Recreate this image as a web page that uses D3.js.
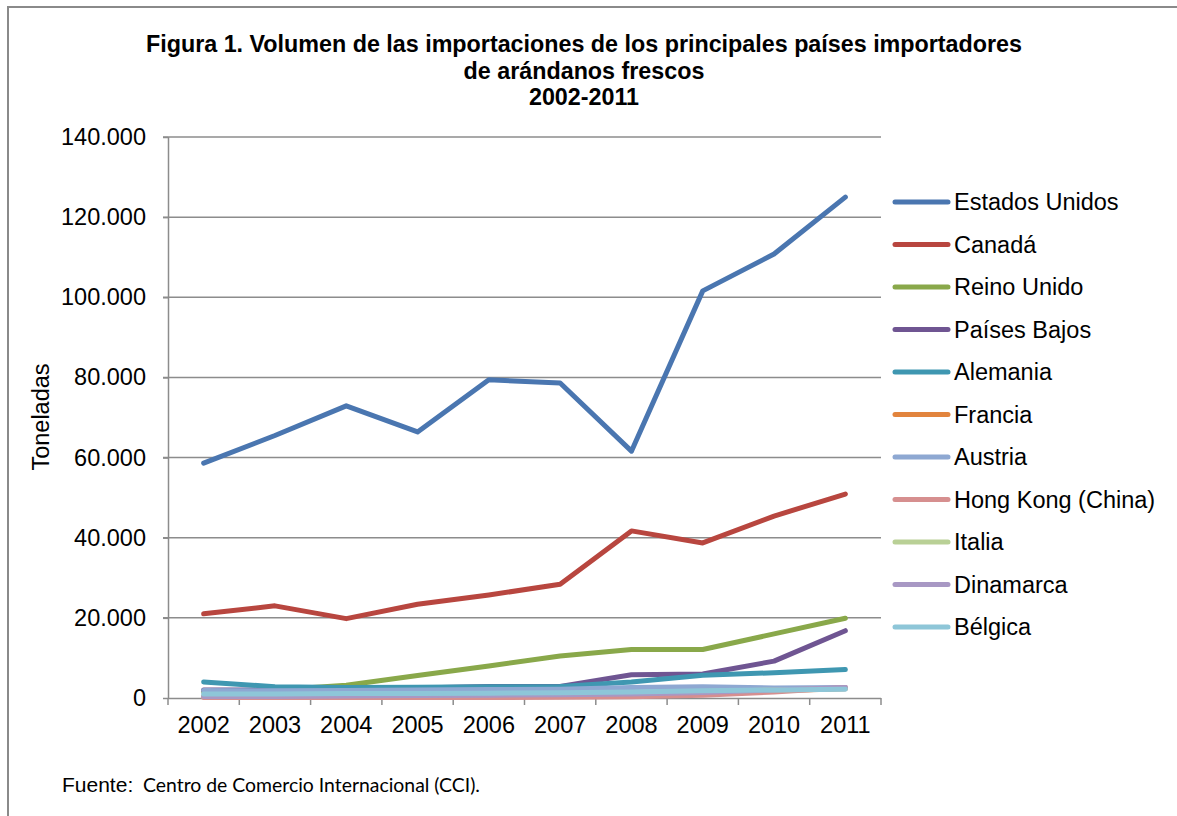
<!DOCTYPE html>
<html>
<head>
<meta charset="utf-8">
<script src="https://cdn.jsdelivr.net/npm/d3@7"></script>
<style>
  body { margin: 0; background: #fff; }
  text { font-family: "Liberation Sans", Arial, sans-serif; fill: #000; }
</style>
</head>
<body>
<svg width="1177" height="816"></svg>
<script>
  var years = ["2002", "2003", "2004", "2005", "2006", "2007", "2008", "2009", "2010", "2011"];
  var yTicks = [0, 20000, 40000, 60000, 80000, 100000, 120000, 140000];

  var estadosUnidos = [58600, 65500, 72900, 66400, 79400, 78600, 61600, 101600, 110800, 125000];
  var canada = [21000, 23000, 19800, 23400, 25700, 28400, 41700, 38700, 45400, 50900];
  var reinoUnido = [1500, 2000, 3200, 5600, 8000, 10500, 12100, 12100, 16000, 19900];
  var paisesBajos = [2000, 2000, 2200, 2500, 2900, 2900, 5800, 6000, 9200, 16800];
  var alemania = [4000, 2800, 2600, 2700, 2800, 2900, 4000, 5700, 6300, 7100];
  var francia = [300, 300, 400, 500, 600, 700, 900, 1300, 1800, 2300];
  var austria = [1900, 1800, 1900, 2000, 2100, 2200, 2600, 2800, 2500, 2600];
  var hongKong = [100, 100, 100, 100, 100, 200, 300, 700, 1500, 2600];
  var italia = [500, 600, 700, 800, 900, 1000, 1200, 1600, 2000, 2400];
  var dinamarca = [400, 400, 500, 600, 700, 800, 1000, 1400, 2000, 2600];
  var belgica = [1000, 1000, 1100, 1100, 1200, 1300, 1500, 1800, 2000, 2200];

  var names = ["Estados Unidos", "Canadá", "Reino Unido", "Países Bajos", "Alemania", "Francia",
    "Austria", "Hong Kong (China)", "Italia", "Dinamarca", "Bélgica"];
  var colors = ["#4a76b0", "#b8463f", "#89a84a", "#6f5592", "#3f97b1", "#e2843d",
    "#8ea8d2", "#d68f8f", "#b9d096", "#a898c4", "#8ec6d8"];
  var values = [estadosUnidos, canada, reinoUnido, paisesBajos, alemania, francia,
    austria, hongKong, italia, dinamarca, belgica];

(function (d3) {
  'use strict';

  var series = names.map(function (n, i) { return { name: n, color: colors[i], values: values[i] }; });

  var svg = d3.select("svg");

  // marco
  svg.append("rect")
    .attr("x", 8).attr("y", 7)
    .attr("width", 1300).attr("height", 900)
    .attr("fill", "none")
    .attr("stroke", "#8a8a8a")
    .attr("stroke-width", 2);

  var plotLeft = 168, plotRight = 881, plotTop = 137, plotBottom = 698;

  var x = d3.scaleBand().domain(years).range([plotLeft, plotRight]);
  var y = d3.scaleLinear().domain([0, 140000]).range([plotBottom, plotTop]);

  var fmt = function (d) { return d3.format(",")(d).replace(/,/g, "."); };

  // rejilla
  svg.append("g")
    .selectAll("line")
    .data(yTicks.filter(function (d) { return d > 0; }))
    .join("line")
    .attr("x1", plotLeft - 5).attr("x2", plotRight)
    .attr("y1", function (d) { return y(d); })
    .attr("y2", function (d) { return y(d); })
    .attr("stroke", "#8c8c8c")
    .attr("stroke-width", 1.5);

  var yAxis = svg.append("g")
    .attr("transform", "translate(" + plotLeft + ",0)")
    .call(d3.axisLeft(y).tickValues(yTicks).tickFormat(fmt).tickSize(5).tickPadding(17));

  var xAxis = svg.append("g")
    .attr("transform", "translate(0," + plotBottom + ")")
    .call(d3.axisBottom(x).tickSize(0).tickPadding(18));

  // marcas entre categorías
  svg.append("g")
    .selectAll("line")
    .data(d3.range(years.length + 1))
    .join("line")
    .attr("x1", function (i) { return plotLeft + i * x.step(); })
    .attr("x2", function (i) { return plotLeft + i * x.step(); })
    .attr("y1", plotBottom).attr("y2", plotBottom + 7)
    .attr("stroke", "#8c8c8c")
    .attr("stroke-width", 1.5);

  [yAxis, xAxis].forEach(function (a) {
    a.select(".domain").attr("stroke", "#8c8c8c").attr("stroke-width", 1.5);
    a.selectAll(".tick line").attr("stroke", "#8c8c8c").attr("stroke-width", 1.5);
    a.selectAll("text")
      .style("font-family", "'Liberation Sans', Arial, sans-serif")
      .style("font-size", "23.5px")
      .attr("fill", "#000");
  });
  xAxis.select(".domain").attr("d", "M" + plotLeft + ",0.5H" + plotRight);
  yAxis.select(".domain").attr("d", "M0.5," + plotBottom + "V" + plotTop);

  var line = d3.line()
    .x(function (d, i) { return x(years[i]) + x.bandwidth() / 2; })
    .y(function (d) { return y(d); });

  svg.append("g")
    .selectAll("path")
    .data(series)
    .join("path")
    .attr("d", function (s) { return line(s.values); })
    .attr("fill", "none")
    .attr("stroke", function (s) { return s.color; })
    .attr("stroke-width", 5)
    .attr("stroke-linejoin", "round")
    .attr("stroke-linecap", "round");

  // leyenda
  var legend = svg.append("g")
    .selectAll("g")
    .data(series)
    .join("g")
    .attr("transform", function (s, i) { return "translate(0," + (202 + i * 42.5) + ")"; });

  legend.append("line")
    .attr("x1", 895).attr("x2", 948)
    .attr("stroke", function (s) { return s.color; })
    .attr("stroke-width", 5)
    .attr("stroke-linecap", "round");

  legend.append("text")
    .attr("x", 954)
    .attr("dy", "0.35em")
    .style("font-size", "23.5px")
    .text(function (s) { return s.name; });

  // título
  var title = svg.append("text")
    .attr("text-anchor", "middle")
    .style("font-weight", "bold")
    .style("font-size", "23.3px");
  ["Figura 1. Volumen de las importaciones de los principales países importadores",
    "de arándanos frescos", "2002-2011"].forEach(function (t, i) {
    title.append("tspan").attr("x", 584).attr("y", 52 + i * 26.5).text(t);
  });

  svg.append("text")
    .attr("transform", "translate(49,417) rotate(-90)")
    .attr("text-anchor", "middle")
    .style("font-size", "23.5px")
    .text("Toneladas");

  svg.append("text")
    .attr("x", 62).attr("y", 792)
    .style("font-size", "21px")
    .text("Fuente:");
  svg.append("text")
    .attr("x", 143).attr("y", 792)
    .style("font-family", "Lato, 'Open Sans', sans-serif")
    .style("font-size", "19.4px")
    .text("Centro de Comercio Internacional (CCI).");

}(d3));
</script>
</body>
</html>
